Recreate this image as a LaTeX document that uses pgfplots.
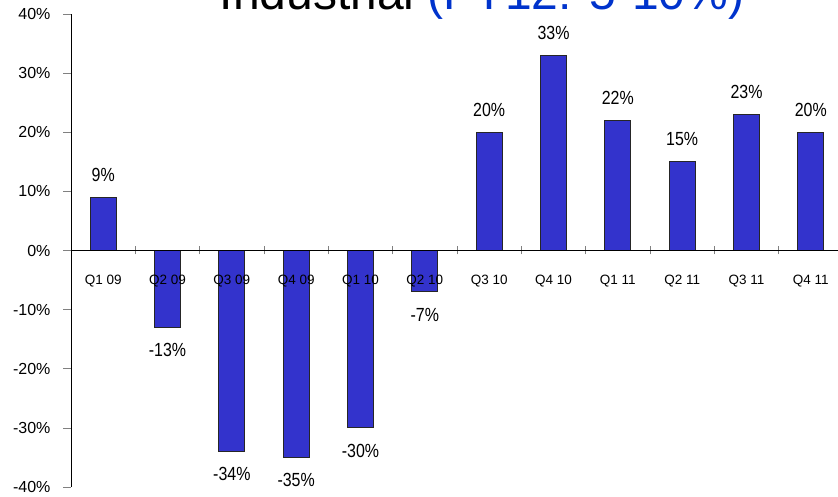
\documentclass[border=0pt]{standalone}
\usepackage{fontspec}
\setmainfont{Liberation Sans}
\newfontfamily\narrowfont[FakeStretch=0.84]{Liberation Sans}
\usepackage{pgfplots}
\pgfplotsset{compat=1.18}
\definecolor{barblue}{HTML}{3333CC}
\definecolor{titleblue}{HTML}{0033CC}

\begin{document}
\begin{tikzpicture}[x=1pt,y=1pt]
\begin{axis}[
  at={(71pt,10pt)}, anchor=south west,
  scale only axis,
  width=772pt, height=473pt,
  ybar, bar width=26pt,
  xmin=-0.5, xmax=11.5,
  ymin=-40, ymax=40,
  axis on top,
  axis x line=middle, axis y line=left,
  axis line style={-, black, line width=0.8pt},
  xtick={0,...,11},
  xticklabels={Q1 09,Q2 09,Q3 09,Q4 09,Q1 10,Q2 10,Q3 10,Q4 10,Q1 11,Q2 11,Q3 11,Q4 11},
  minor xtick={0.5,1.5,...,10.5},
  x tick style={draw=none},
  minor x tick style={draw=gray, line width=0.6pt},
  minor tick length=8pt,
  xtick align=center,
  x tick label style={font=\fontsize{13.5}{15}\selectfont, yshift=-27pt, anchor=center},
  ytick={-40,-30,...,40},
  yticklabel={\pgfmathprintnumber{\tick}\%},
  y tick label style={font=\fontsize{16}{18}\selectfont},
  ytick align=outside, major tick length=8pt,
  y tick style={draw=gray, line width=0.6pt},
  yticklabel style={xshift=-9pt},
  /pgf/number format/assume math mode=true,
  nodes near coords={\pgfmathprintnumber{\pgfplotspointmeta}\%},
  every node near coord/.append style={font=\narrowfont\fontsize{19}{21}\selectfont, inner sep=0pt, outer sep=0pt},
  nodes near coords style={inner ysep=16pt},
  clip=false,
]
\addplot[fill=barblue, draw=black!85, line width=0.8pt] coordinates {
  (0,9) (1,-13) (2,-34) (3,-35) (4,-30) (5,-7)
  (6,20) (7,33) (8,22) (9,15) (10,23) (11,20)
};
\end{axis}
\node[anchor=base, font=\fontsize{48}{52}\selectfont, inner sep=0pt] at (482pt,487pt)
  {Industrial \textcolor{titleblue}{(FY12: 5-10\%)}};
\pgfresetboundingbox
\useasboundingbox (0,0) rectangle (838pt,497pt);
\end{tikzpicture}
\end{document}
